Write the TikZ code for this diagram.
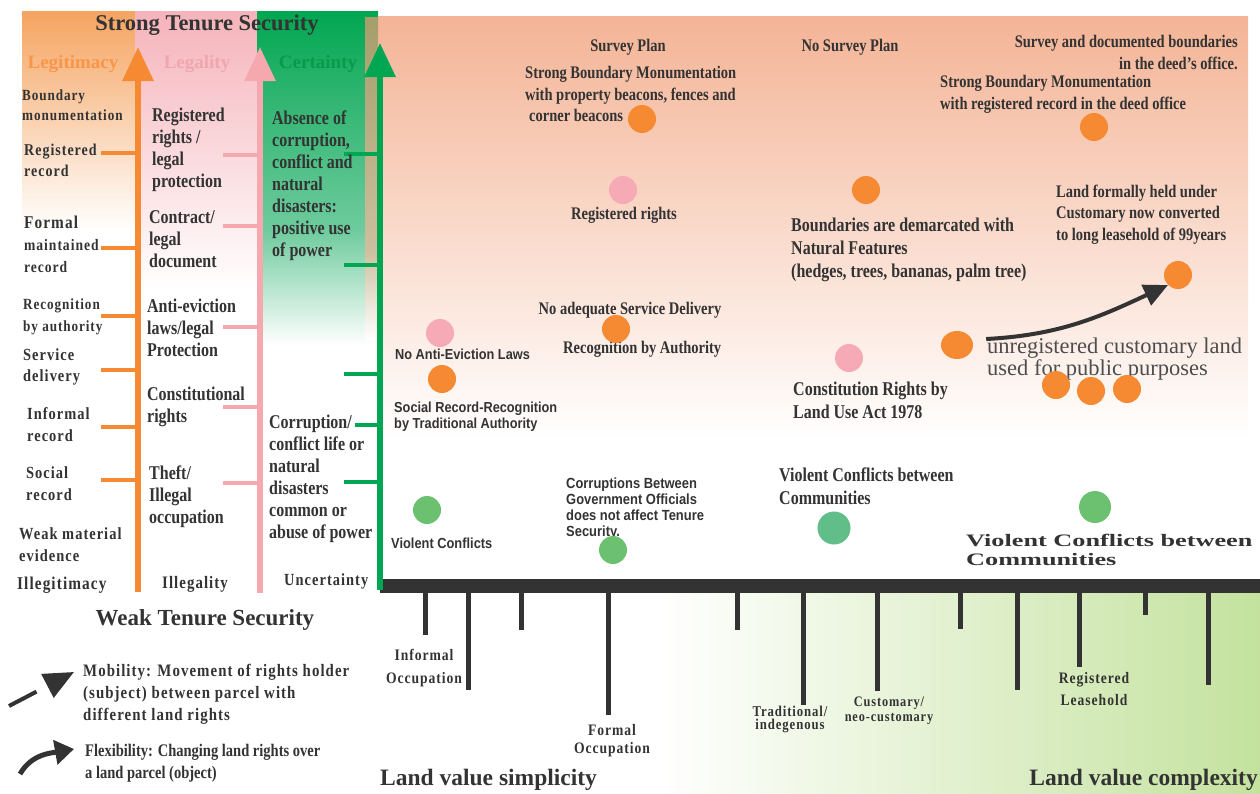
\documentclass[tikz,border=0pt]{standalone}
\usepackage{fontspec}
\setmainfont{Liberation Serif}
\newfontfamily\condf{Liberation Serif Bold}[FakeStretch=0.82]
\newfontfamily\spacedf{Liberation Serif Bold}[FakeStretch=0.85,LetterSpace=6]
\newfontfamily\boldf{Liberation Serif Bold}
\newfontfamily\widef{Liberation Serif Bold}[FakeStretch=1.5]
\newfontfamily\sansf{Liberation Sans Bold}[FakeStretch=0.88]
\newfontfamily\regf{Liberation Serif}
\usetikzlibrary{arrows.meta, positioning, shapes.geometric}

\definecolor{ink}{HTML}{333333}
\definecolor{orA}{HTML}{F58A33}
\definecolor{piA}{HTML}{F5A8AE}
\definecolor{grA}{HTML}{00A651}
\definecolor{orBg}{HTML}{F5A461}
\definecolor{piBg}{HTML}{F5B3BA}
\definecolor{grTop}{HTML}{2CB46E}
\definecolor{grMid}{HTML}{6ECB9D}
\definecolor{olive}{HTML}{A59E6A}
\definecolor{oliveMid}{HTML}{CDBF9F}
\definecolor{peach}{HTML}{F4B496}
\definecolor{peachMid}{HTML}{F9D6C5}
\definecolor{lime}{HTML}{C4E29E}
\definecolor{dotOr}{HTML}{F68A33}
\definecolor{dotPi}{HTML}{F5AAB5}
\definecolor{dotGr}{HTML}{6CC171}
\definecolor{dotTe}{HTML}{62BE88}
\definecolor{legitC}{HTML}{F7964A}
\definecolor{legalC}{HTML}{F0A6AE}
\definecolor{certC}{HTML}{079A4A}
\definecolor{barC}{HTML}{333333}
\definecolor{greyT}{HTML}{4D4D4D}

\begin{document}
\begin{tikzpicture}[x=1pt, y=-1pt,
    lbl/.style={inner sep=0pt, text=ink, align=left},
    panel/.style={lbl, font={\condf\fontsize{17.7}{21.5}\selectfont}},
    panelbig/.style={lbl, font={\condf\fontsize{19.5}{23}\selectfont}},
    colcond/.style={lbl, font={\condf\fontsize{19.5}{22}\selectfont}},
    sanslbl/.style={lbl, font={\sansf\fontsize{#1}{16}\selectfont}},
    spot/.style={circle, inner sep=0pt, minimum size=28pt, fill=#1},
    tickln/.style={line width=3.5pt, #1},
    colarrow/.style={line width=6pt, #1, -{Triangle[length=34pt, width=30pt]}},
  ]
    \useasboundingbox (0,0) rectangle (1260,793);

    % backgrounds
    \shade[top color=orBg, bottom color=white] (22,11) rectangle (135,230);
    \shade[top color=piBg, bottom color=white] (135,11) rectangle (257,290);
    \shade[top color=grA, bottom color=grTop] (257,11) rectangle (378,90);
    \shade[top color=grTop, bottom color=grMid] (257,90) rectangle (378,230);
    \shade[top color=grMid, bottom color=white] (257,230) rectangle (378,345);
    \shade[top color=peach, middle color=peachMid, bottom color=white] (378,16) rectangle (1248,440);
    \shade[top color=olive, bottom color=oliveMid] (365,17) rectangle (378,250);
    \shade[top color=oliveMid, bottom color=white] (365,250) rectangle (378,340);
    \shade[left color=white, right color=lime] (660,593) rectangle (1260,793);

    % axis
    \fill[barC] (380,579) rectangle (1260,593);
    \foreach \x/\y in {425/635, 468/690, 521/630, 608/715, 737/630, 803/705,
                       877/691, 960/629, 1017/690, 1079/667, 1145/615, 1208/685}
      \draw[line width=5pt, barC] (\x,592) -- (\x,\y);

    % column arrows
    \draw[colarrow=orA] (138,592) -- (138,47);
    \draw[colarrow=piA] (260,593) -- (260,47);
    \draw[colarrow=grA] (380,590) -- (380,43);
    \foreach \y in {153,248,316,370,427,480} \draw[tickln=orA] (101,\y) -- (136,\y);
    \foreach \y in {155,226,327,407,483} \draw[tickln=piA] (223,\y) -- (258,\y);
    \foreach \y in {154,265,374,482} \draw[tickln=grA] (344,\y) -- (378,\y);
    \draw[tickln=grA] (355,425) -- (378,425);

    % headers
    \node[lbl, font={\boldf\fontsize{22.5}{26}\selectfont}] (strong) at (207,25) {Strong Tenure Security};
    \node[lbl, text=legitC, font={\boldf\fontsize{19}{22}\selectfont}] (legit) at (73,64) {Legitimacy};
    \node[lbl, text=legalC, font={\boldf\fontsize{19}{22}\selectfont}] (legal) at (197,64) {Legality};
    \node[lbl, text=certC, font={\boldf\fontsize{19}{22}\selectfont}] (cert) at (318,64) {Certainty};
    \node[lbl, font={\boldf\fontsize{23}{27}\selectfont}] (weak) at (205,620) {Weak Tenure Security};

    % legitimacy column
    \node[lbl, anchor=north west, font={\spacedf\fontsize{15.5}{20}\selectfont}] (bound) at (22,89.5) {Boundary\\monumentation};
    \node[lbl, anchor=north west, font={\spacedf\fontsize{16.5}{21}\selectfont}] (regrec) at (24,144) {Registered\\record};
    \node[lbl, anchor=north west, font={\spacedf\fontsize{16}{22}\selectfont}] (formal) at (24,215.5) {{\fontsize{18}{22}\selectfont Formal}\\maintained\\record};
    \node[lbl, anchor=north west, font={\spacedf\fontsize{15.5}{22}\selectfont}] (recog) at (23,298.5) {Recognition\\by authority};
    \node[lbl, anchor=north west, font={\spacedf\fontsize{17}{21}\selectfont}] (service) at (23,348) {Service\\delivery};
    \node[lbl, anchor=north west, font={\spacedf\fontsize{17}{22}\selectfont}] (inform) at (27,407) {Informal\\record};
    \node[lbl, anchor=north west, font={\spacedf\fontsize{17}{22}\selectfont}] (social) at (26,466) {Social\\record};
    \node[lbl, anchor=north west, font={\spacedf\fontsize{17}{22}\selectfont}] (weakev) at (19,527) {Weak material\\evidence};
    \node[lbl, anchor=west, font={\spacedf\fontsize{18}{22}\selectfont}] (illegit) at (17,585) {Illegitimacy};

    % legality column
    \node[colcond, anchor=north west] (regrights) at (152,108) {Registered\\rights /\\legal\\protection};
    \node[colcond, anchor=north west] (contract) at (149,210) {Contract/\\legal\\document};
    \node[colcond, anchor=north west] (antiev) at (147,299) {Anti-eviction\\laws/legal\\Protection};
    \node[colcond, anchor=north west] (constit) at (147,387) {Constitutional\\rights};
    \node[colcond, anchor=north west] (theft) at (149,466) {Theft/\\Illegal\\occupation};
    \node[lbl, font={\spacedf\fontsize{17.5}{22}\selectfont}] (illegal) at (195,584) {Illegality};

    % certainty column
    \node[colcond, anchor=north west] (absence) at (272,111) {Absence of\\corruption,\\conflict and\\natural\\disasters:\\positive use\\of power};
    \node[colcond, anchor=north west] (corrupt) at (269,415) {Corruption/\\conflict life or\\natural\\disasters\\common or\\abuse of power};
    \node[lbl, anchor=west, font={\spacedf\fontsize{17}{22}\selectfont}] (uncert) at (284,581) {Uncertainty};

    % legend
    \coordinate (mobA) at (9,706);
    \coordinate (mobB) at (74,672);
    \draw[line width=4pt, ink, dash pattern=on 31pt off 20pt, -{Triangle[length=30pt, width=26pt]}] (mobA) -- (mobB);
    \node[lbl, anchor=north west, font={\spacedf\fontsize{17.5}{22}\selectfont}] (mobtxt) at (83,664) {Mobility: Movement of rights holder\\(subject) between parcel with\\different land rights};
    \coordinate (flexA) at (20,774);
    \coordinate (flexB) at (74,749);
    \draw[line width=5pt, ink, -{Triangle[length=19pt, width=24pt]}] (flexA) to[out=60, in=190] (flexB);
    \node[panel, anchor=north west] (flextxt) at (85,744.5) {Flexibility: Changing land rights over\\a land parcel (object)};

    % panel labels
    \node[panel] (survey) at (628,47) {Survey Plan};
    \node[panel, anchor=north west] (strongbm) at (525,66.5) {Strong Boundary Monumentation\\with property beacons, fences and\\\hspace{4pt}corner beacons};
    \node[panel] (regr) at (624,215) {Registered rights};
    \node[panel] (nosurvey) at (850,47) {No Survey Plan};
    \node[panel, anchor=north east, align=right] (docbound) at (1238,35.5) {Survey and documented boundaries\\in the deed’s office.};
    \node[panel, anchor=north west] (strongreg) at (940,75.5) {Strong Boundary Monumentation\\with registered record in the deed office};
    \node[panelbig, anchor=north west] (natural) at (791,218) {Boundaries are demarcated with\\Natural Features\\(hedges, trees, bananas, palm tree)};
    \node[panel, anchor=north west] (leasetxt) at (1056,184.5) {Land formally held under\\Customary now converted\\to long leasehold of 99years};
    \node[lbl, anchor=north west, text=greyT, font={\regf\fontsize{22.5}{22}\selectfont}] (unreg) at (987,338) {unregistered customary land\\used for public purposes};
    \node[panelbig, anchor=north west] (landuse) at (793,382) {Constitution Rights by\\Land Use Act 1978};
    \node[sanslbl=14.5, anchor=west] (noanti) at (395,354) {No Anti-Eviction Laws};
    \node[sanslbl=14.5, anchor=north west] (socrec) at (394,401.5) {Social Record-Recognition\\by Traditional Authority};
    \node[panel] (noserv) at (630,310) {No adequate Service Delivery};
    \node[panel, anchor=west] (recauth) at (563,349) {Recognition by Authority};
    \node[sanslbl=14.6, anchor=west] (violent) at (391,543) {Violent Conflicts};
    \node[sanslbl=14.7, anchor=north west] (corrgov) at (566,477.5) {Corruptions Between\\Government Officials\\does not affect Tenure\\Security.};
    \node[panelbig, anchor=north west] (viocom) at (779,468) {Violent Conflicts between\\Communities};
    \node[lbl, anchor=north west, font={\widef\fontsize{17.5}{19}\selectfont}] (viocomw) at (966,533.5) {Violent Conflicts between\\Communities};

    % dots
    \node[spot=dotOr] (o1) at (642,119) {};
    \node[spot=dotPi] (p1) at (623,190) {};
    \node[spot=dotOr] (o2) at (1094,127) {};
    \node[spot=dotOr] (o3) at (866,190) {};
    \node[spot=dotOr] (o4) at (1178,275) {};
    \node[spot=dotOr, ellipse, minimum width=32pt, minimum height=28pt] (o5) at (957,345) {};
    \node[spot=dotOr] (o6) at (1056,385) {};
    \node[spot=dotOr] (o7) at (1091,391) {};
    \node[spot=dotOr] (o8) at (1127,389) {};
    \node[spot=dotPi] (p2) at (849,358) {};
    \node[spot=dotPi] (p3) at (440,333) {};
    \node[spot=dotOr] (o9) at (442,379) {};
    \node[spot=dotOr] (o10) at (616,329) {};
    \node[spot=dotGr] (g1) at (427,510) {};
    \node[spot=dotGr] (g2) at (613,550) {};
    \node[spot=dotTe, minimum size=33pt] (g3) at (834,528) {};
    \node[spot=dotGr, minimum size=32pt] (g4) at (1095,507) {};

    % flexibility arrow
    \draw[line width=4pt, ink, -{Triangle[length=24pt, width=22pt]}] ([shift={(13pt,6pt)}]o5.east) to[out=3, in=205] (o4.south west);

    % axis labels
    \node[lbl, anchor=north, align=center, font={\spacedf\fontsize{16}{23}\selectfont}] (infocc) at (424,649) {Informal\\Occupation};
    \node[lbl, anchor=north, align=center, font={\spacedf\fontsize{16}{18}\selectfont}] (formocc) at (612,724) {Formal\\Occupation};
    \node[lbl, anchor=north, align=center, font={\spacedf\fontsize{15}{13}\selectfont}] (tradit) at (790,706) {Traditional/\\indegenous};
    \node[lbl, anchor=north, align=center, font={\spacedf\fontsize{14.5}{15}\selectfont}] (custom) at (889,697) {Customary/\\neo-customary};
    \node[lbl, anchor=north, align=center, font={\spacedf\fontsize{16}{22}\selectfont}] (regl) at (1094,672) {Registered\\Leasehold};
    \node[lbl, anchor=west, font={\boldf\fontsize{23.5}{27}\selectfont}] (simpl) at (380,780) {Land value simplicity};
    \node[lbl, anchor=east, font={\boldf\fontsize{23.5}{27}\selectfont}] (compl) at (1258,780) {Land value complexity};
\end{tikzpicture}
\end{document}
